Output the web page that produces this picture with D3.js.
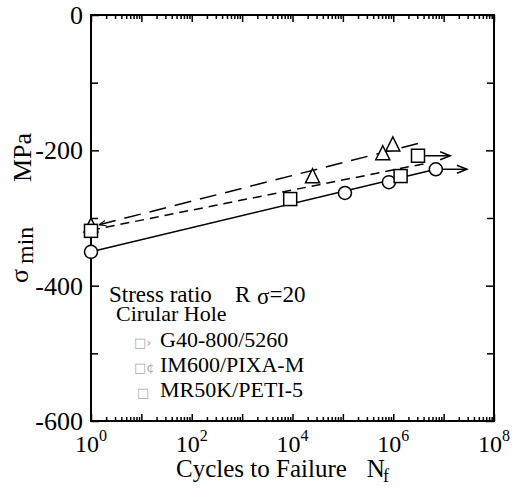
<!DOCTYPE html>
<html>
<head>
<meta charset="utf-8">
<script src="https://cdn.jsdelivr.net/npm/d3@7"></script>
<style>
  body { margin: 0; background: #fff; }
  text { font-family: "Liberation Serif", "Times New Roman", serif; fill: #000; }
</style>
</head>
<body>
<div id="viz"></div>
<script>
// data
const circleN = [1, 1.1e5, 8.2e5, 7e6];
const circleS = [-350, -263, -247, -228];
const squareN = [1, 9e3, 1.4e6, 3.1e6];
const squareS = [-319, -272, -238, -208];
const triN = [1, 2.5e4, 6.2e5, 9.8e5];
const triS = [-312, -239, -205, -192];

// fitted lines (end points)
const solidN = [1, 7e6];
const solidS = [-350, -228];
const shortDashN = [1, 4.7e6];
const shortDashS = [-318, -219];
const longDashN = [1.45, 3.9e6];
const longDashS = [-310, -188];

// run-out arrows
const runoutN = [3.1e6, 7e6];
const runoutEndN = [1.35e7, 2.9e7];
const runoutS = [-208, -228];

// ticks
const yMajor = [0, -200, -400, -600];
const yMinor = [-100, -300, -500];
const xDecades = [0, 1, 2, 3, 4, 5, 6, 7, 8];
const xLabelExp = [0, 2, 4, 6, 8];

// legend
const legendGlyphs = ["\u25A1\u203A", "\u25A1\u00A2", "\u25A1"];
const legendLabels = ["G40-800/5260", "IM600/PIXA-M", "MR50K/PETI-5"];

// dimensions and margin of the svg
const width = 512
const height = 497
const margin = {left: 91, top: 15, right: 18, bottom: 76}
const g_width = width - margin.left - margin.right;
const g_height = height - margin.top - margin.bottom;

const root = d3.select("#viz")
        .append("svg")
        .attr("width", width)
        .attr("height", height);

const svg = root.append("g")
        .attr("transform", "translate(" + margin.left + "," + margin.top + ")");

const x = d3.scaleLog().domain([1, 1e8]).range([0, g_width]);
const y = d3.scaleLinear().domain([-600, 0]).range([g_height, 0]);

// minor log ticks 2..9 per decade
const xMinor = [];
xDecades.slice(0, -1).forEach(function (k) {
    for (let m = 2; m <= 9; m++) xMinor.push(m * Math.pow(10, k));
});
const xMajor = xDecades.map(function (k) { return Math.pow(10, k) });

function styleAxis(g) {
    g.select(".domain").remove();
    g.selectAll("line").attr("stroke", "#000").attr("stroke-width", 1.5);
    g.selectAll("text").remove();
}

// x axes, ticks pointing inward
svg.append("g").attr("transform", "translate(0," + g_height + ")")
    .call(d3.axisBottom(x).tickValues(xMajor).tickSize(-7).tickSizeOuter(0)).call(styleAxis);
svg.append("g").attr("transform", "translate(0," + g_height + ")")
    .call(d3.axisBottom(x).tickValues(xMinor).tickSize(-4).tickSizeOuter(0)).call(styleAxis);
svg.append("g")
    .call(d3.axisTop(x).tickValues(xMajor).tickSize(-7).tickSizeOuter(0)).call(styleAxis);
svg.append("g")
    .call(d3.axisTop(x).tickValues(xMinor).tickSize(-4).tickSizeOuter(0)).call(styleAxis);

// y axes
svg.append("g")
    .call(d3.axisLeft(y).tickValues(yMajor).tickSize(-8).tickSizeOuter(0)).call(styleAxis);
svg.append("g")
    .call(d3.axisLeft(y).tickValues(yMinor).tickSize(-7).tickSizeOuter(0)).call(styleAxis);
svg.append("g").attr("transform", "translate(" + g_width + ",0)")
    .call(d3.axisRight(y).tickValues(yMajor).tickSize(-8).tickSizeOuter(0)).call(styleAxis);
svg.append("g").attr("transform", "translate(" + g_width + ",0)")
    .call(d3.axisRight(y).tickValues(yMinor).tickSize(-7).tickSizeOuter(0)).call(styleAxis);

// frame
svg.append("rect")
    .attr("width", g_width).attr("height", g_height)
    .attr("fill", "none").attr("stroke", "#000").attr("stroke-width", 2);

// y tick labels
svg.selectAll(".ylab").data(yMajor).enter()
    .append("text")
    .attr("class", "ylab")
    .attr("x", -8)
    .attr("y", function (d) { return y(d) + 9 })
    .attr("text-anchor", "end")
    .attr("font-size", 26)
    .text(function (d) { return d });

// x tick labels 10^n
const xl = svg.selectAll(".xlab").data(xLabelExp).enter()
    .append("text")
    .attr("class", "xlab")
    .attr("x", function (d) { return x(Math.pow(10, d)) })
    .attr("y", g_height + 31)
    .attr("text-anchor", "middle")
    .attr("font-size", 24);
xl.append("tspan").text("10");
xl.append("tspan").attr("font-size", 16).attr("dy", -11).text(function (d) { return d });

// x title
const xt = root.append("text")
    .attr("x", 176).attr("y", 477)
    .attr("font-size", 25);
xt.append("tspan").text("Cycles to Failure");
xt.append("tspan").attr("dx", 20).text("N");
xt.append("tspan").attr("font-size", 18).attr("dy", 5).attr("dx", -2).text("f");

// y title, rotated
root.append("text")
    .attr("transform", "translate(28,283) rotate(-90)")
    .attr("font-size", 26)
    .text("\u03C3");
root.append("text")
    .attr("transform", "translate(33,264) rotate(-90)")
    .attr("font-size", 24)
    .text("min");
root.append("text")
    .attr("transform", "translate(31,182) rotate(-90)")
    .attr("font-size", 26)
    .text("MPa");

// fitted lines
const line = d3.line()
    .x(function (d) { return x(d[0]) })
    .y(function (d) { return y(d[1]) });

root.append("defs").append("marker")
    .attr("id", "openStart")
    .attr("viewBox", "0 0 10 10")
    .attr("refX", 0).attr("refY", 5)
    .attr("markerWidth", 7).attr("markerHeight", 7)
    .attr("markerUnits", "userSpaceOnUse")
    .attr("orient", "auto")
    .append("path")
    .attr("d", "M10,1 L0,5 L10,9")
    .attr("fill", "none").attr("stroke", "#000").attr("stroke-width", 1.5);

svg.append("path")
    .datum(d3.zip(solidN, solidS))
    .attr("d", line)
    .attr("fill", "none").attr("stroke", "#000").attr("stroke-width", 1.5);
svg.append("path")
    .datum(d3.zip(shortDashN, shortDashS))
    .attr("d", line)
    .attr("fill", "none").attr("stroke", "#000").attr("stroke-width", 1.5)
    .attr("stroke-dasharray", "9,6");
svg.append("path")
    .datum(d3.zip(longDashN, longDashS))
    .attr("d", line)
    .attr("fill", "none").attr("stroke", "#000").attr("stroke-width", 1.5)
    .attr("stroke-dasharray", "17,9")
    .attr("marker-start", "url(#openStart)");

// run-out arrows
const arr = svg.selectAll(".runout").data(d3.zip(runoutN, runoutEndN, runoutS)).enter()
    .append("g").attr("class", "runout");
arr.append("line")
    .attr("x1", function (d) { return x(d[0]) })
    .attr("x2", function (d) { return x(d[1]) })
    .attr("y1", function (d) { return y(d[2]) })
    .attr("y2", function (d) { return y(d[2]) })
    .attr("stroke", "#000").attr("stroke-width", 1.5);
arr.append("path")
    .attr("d", function (d) {
        const ex = x(d[1]), ey = y(d[2]);
        return "M" + (ex - 10) + "," + (ey - 4) + "L" + ex + "," + ey + "L" + (ex - 10) + "," + (ey + 4);
    })
    .attr("fill", "none").attr("stroke", "#000").attr("stroke-width", 1.5);

// triangles
svg.selectAll(".tri").data(d3.zip(triN, triS)).enter()
    .append("path")
    .attr("class", "tri")
    .attr("transform", function (d) { return "translate(" + x(d[0]) + "," + y(d[1]) + ")" })
    .attr("d", "M0,-8 L7,6 L-7,6 Z")
    .attr("fill", "#fff").attr("stroke", "#000").attr("stroke-width", 1.5);

// circles
svg.selectAll(".cir").data(d3.zip(circleN, circleS)).enter()
    .append("circle")
    .attr("class", "cir")
    .attr("cx", function (d) { return x(d[0]) })
    .attr("cy", function (d) { return y(d[1]) })
    .attr("r", 6.5)
    .attr("fill", "#fff").attr("stroke", "#000").attr("stroke-width", 1.5);

// squares
svg.selectAll(".sq").data(d3.zip(squareN, squareS)).enter()
    .append("rect")
    .attr("class", "sq")
    .attr("x", function (d) { return x(d[0]) - 6.5 })
    .attr("y", function (d) { return y(d[1]) - 6.5 })
    .attr("width", 13).attr("height", 13)
    .attr("fill", "#fff").attr("stroke", "#000").attr("stroke-width", 1.5);

// legend
const lt = root.append("text").attr("x", 109).attr("y", 302).attr("font-size", 23);
lt.append("tspan").text("Stress ratio");
lt.append("tspan").attr("x", 235).text("R");
lt.append("tspan").attr("x", 257).attr("dy", 2).text("\u03C3");
lt.append("tspan").attr("dy", -2).text("=20");

root.append("text").attr("x", 116).attr("y", 321).attr("font-size", 22).text("Cirular Hole");

const leg = root.selectAll(".leg").data(d3.zip(legendGlyphs, legendLabels)).enter()
    .append("g").attr("class", "leg")
    .attr("transform", function (d, i) { return "translate(0," + (347 + i * 25) + ")" });
leg.append("text")
    .attr("x", function (d, i) { return i === 2 ? 137 : 134 })
    .attr("font-size", 13)
    .style("font-family", "DejaVu Sans")
    .style("fill", "#aaa")
    .text(function (d) { return d[0] });
leg.append("text")
    .attr("x", 160)
    .attr("font-size", 22)
    .text(function (d) { return d[1] });
</script>
</body>
</html>
